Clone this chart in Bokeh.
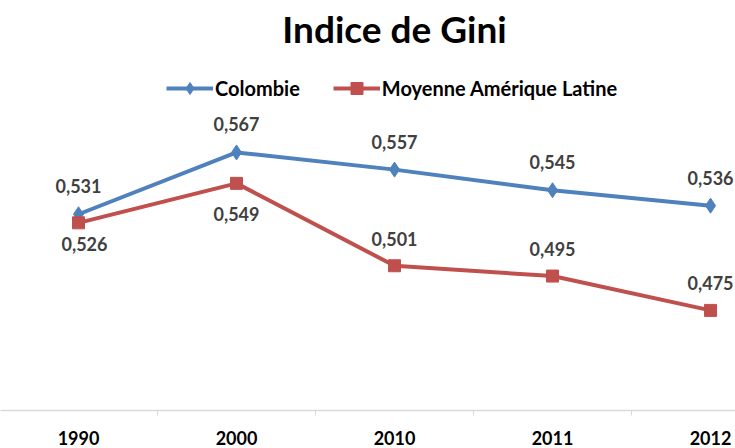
from bokeh.plotting import figure
from bokeh.models import Range1d, FixedTicker, Legend, LegendItem, ColumnDataSource, Label
from bokeh.core.properties import value
from bokeh.embed import file_html
from bokeh.resources import INLINE

years = ["1990", "2000", "2010", "2011", "2012"]
colombie = [0.531, 0.567, 0.557, 0.545, 0.536]
amerique_latine = [0.526, 0.549, 0.501, 0.495, 0.475]
series_names = ["Colombie", "Moyenne Amérique Latine"]
title_text = "Indice de Gini"

BLUE = "#4F81BD"
RED = "#C0504D"
FONT = "Lato"

def fmt(v):
    return f"{v:.3f}".replace(".", ",")

xs = list(range(len(years)))

p = figure(width=735, height=448, output_backend="svg", toolbar_location=None,
           x_range=Range1d(-0.4937, 4.158), y_range=Range1d(0.4167, 0.6555),
           y_axis_location=None,
           min_border_left=0, min_border_right=0, min_border_top=0, min_border_bottom=38)
p.outline_line_color = None
p.xgrid.visible = False
p.ygrid.visible = False
p.background_fill_color = "white"

ax = p.xaxis[0]
ax.ticker = FixedTicker(ticks=xs, minor_ticks=[i + 0.5 for i in xs[:-1]])
ax.major_label_overrides = {i: y for i, y in enumerate(years)}
ax.major_tick_line_color = None
ax.major_tick_out = 0
ax.major_tick_in = 0
ax.minor_tick_line_color = "#d9d9d9"
ax.minor_tick_out = 5
ax.minor_tick_in = 0
ax.axis_line_color = "#d9d9d9"
ax.axis_line_width = 1.5
ax.major_label_standoff = 15
ax.major_label_text_font = FONT
ax.major_label_text_font_style = "bold"
ax.major_label_text_font_size = "18px"
ax.major_label_text_color = "#000000"

src_c = ColumnDataSource(dict(x=xs, y=colombie, lab=[fmt(v) for v in colombie]))
src_a = ColumnDataSource(dict(x=xs, y=amerique_latine, lab=[fmt(v) for v in amerique_latine]))

l1 = p.line("x", "y", source=src_c, line_color=BLUE, line_width=4)
m1 = p.scatter("x", "y", source=src_c, marker="diamond", size=15, fill_color=BLUE, line_color=BLUE)
l2 = p.line("x", "y", source=src_a, line_color=RED, line_width=4)
m2 = p.scatter("x", "y", source=src_a, marker="square", size=12, fill_color=RED, line_color=RED)

label_kw = dict(text_font=value(FONT), text_font_style="bold", text_font_size="18px",
                text_color="#404040", text_align="center", text_baseline="middle")
p.text("x", "y", "lab", source=src_c, y_offset=-28, **label_kw)

below = {0: (6, 21), 1: (0, 31)}
for i, (xv, yv) in enumerate(zip(xs, amerique_latine)):
    dx, dy = below.get(i, (0, -27))
    p.text(x=[xv], y=[yv], text=[fmt(yv)], x_offset=dx, y_offset=dy, **label_kw)

title = Label(x=2, y=0.6392, text=title_text, text_font=FONT, text_font_style="bold",
              text_font_size="37px", text_color="#000000", text_align="center",
              text_baseline="middle")
p.add_layout(title)

legend = Legend(items=[LegendItem(label=series_names[0], renderers=[l1, m1]),
                       LegendItem(label=series_names[1], renderers=[l2, m2])],
                orientation="horizontal", location=(166, 307),
                glyph_width=47, glyph_height=30, label_height=20, label_standoff=2,
                spacing=33, padding=2, margin=0,
                border_line_color=None, background_fill_alpha=0,
                label_text_font=FONT, label_text_font_style="bold",
                label_text_font_size="20px", label_text_color="#000000")
p.add_layout(legend)

open("out.html", "w").write(file_html(p, INLINE))
